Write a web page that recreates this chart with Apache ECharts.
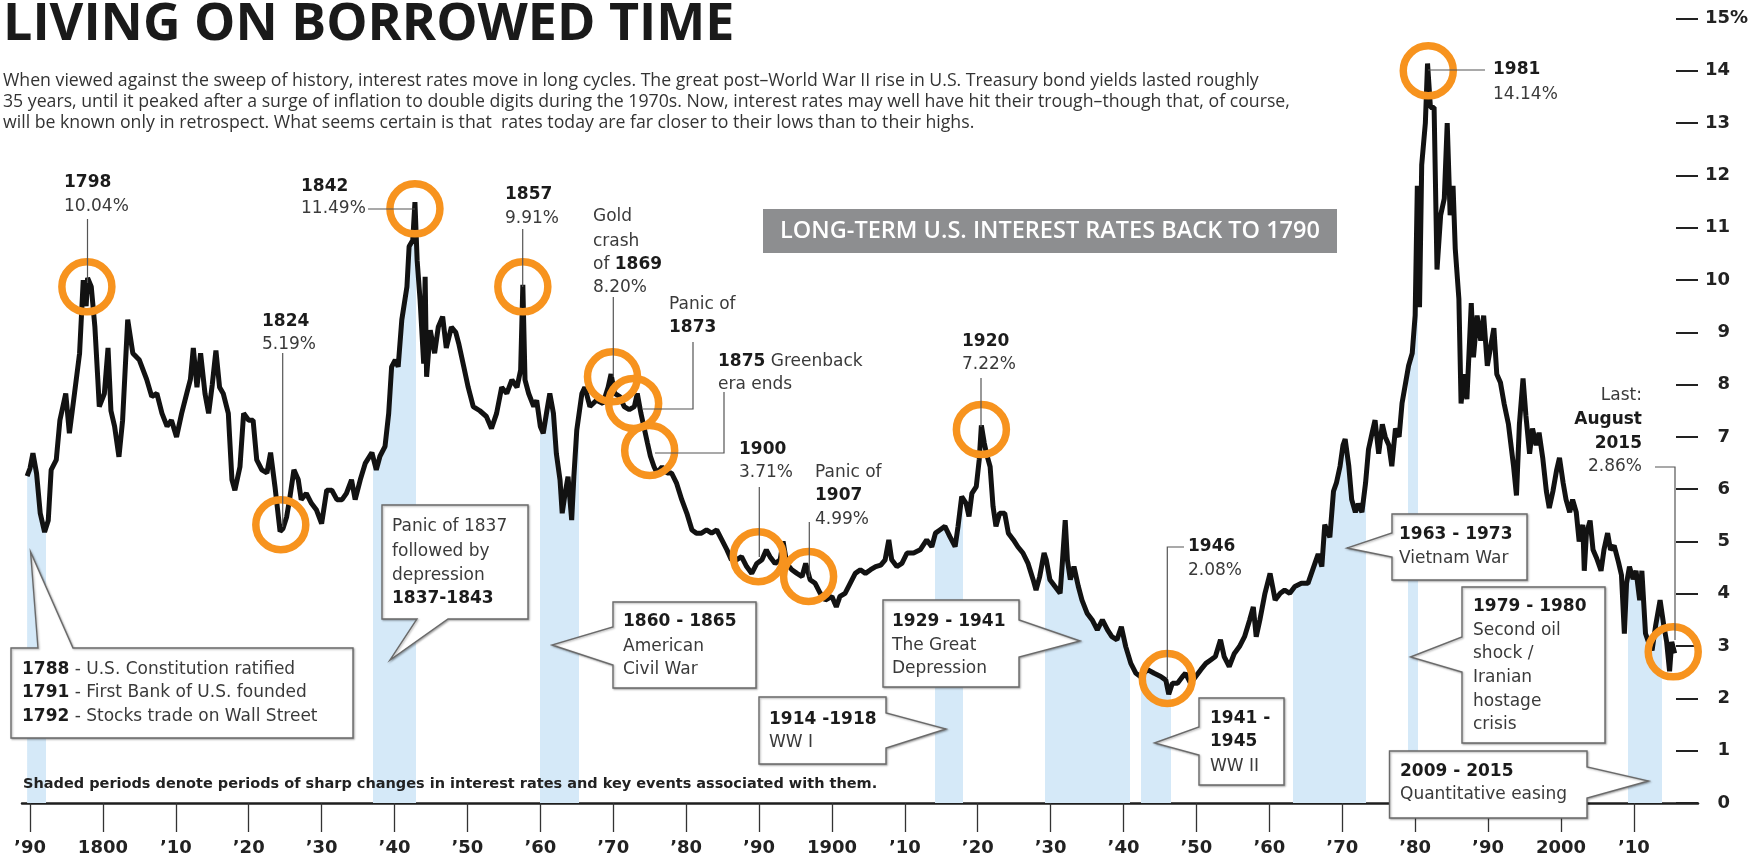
<!DOCTYPE html>
<html>
<head>
<meta charset="utf-8">
<title>Living on borrowed time</title>
<script src="https://cdn.jsdelivr.net/npm/echarts@6/dist/echarts.min.js"></script>
<style>
  html, body { margin: 0; padding: 0; background: #fff; }
  #chart { width: 1758px; height: 861px; }
</style>
</head>
<body>
<div id="chart"></div>
<script>
// decade ticks on the x axis
const decadeTicks = [1790, 1800, 1810, 1820, 1830, 1840, 1850, 1860, 1870, 1880, 1890,
  1900, 1910, 1920, 1930, 1940, 1950, 1960, 1970, 1980, 1990, 2000, 2010];

// long-term yield, [year, percent]
const ratesEarly = [
  [1789.6, 6.25], [1790.0, 6.4], [1790.4, 6.69], [1790.9, 6.3], [1791.4, 5.54], [1792.0, 5.18], [1792.5, 5.4],
  [1792.9, 6.37], [1793.6, 6.56], [1794.1, 7.32], [1794.9, 7.83], [1795.4, 7.07], [1796.1, 7.83], [1796.8, 8.6],
  [1797.3, 10.0], [1797.7, 9.5], [1797.9, 10.04], [1798.4, 9.87], [1798.9, 9.1], [1799.3, 8.1], [1799.5, 7.58],
  [1800.2, 7.83], [1800.7, 8.7], [1801.1, 7.5], [1801.6, 7.2], [1802.2, 6.62], [1802.7, 7.32], [1803.4, 9.24],
  [1804.1, 8.6], [1805.0, 8.47], [1806.0, 8.1], [1806.7, 7.77], [1807.4, 7.83], [1808.1, 7.45], [1808.8, 7.2],
  [1809.4, 7.32], [1810.1, 7.0], [1810.8, 7.45], [1811.5, 7.83], [1812.0, 8.1], [1812.4, 8.7], [1812.9, 7.95],
  [1813.4, 8.6], [1814.0, 7.83], [1814.5, 7.45], [1815.0, 8.0], [1815.5, 8.65], [1816.0, 7.95], [1816.5, 7.83],
  [1817.2, 7.45], [1817.7, 6.18], [1818.1, 5.98], [1818.8, 6.43], [1819.3, 7.45], [1820.0, 7.32], [1820.6, 7.32],
  [1821.1, 6.56], [1821.8, 6.37], [1822.5, 6.31], [1823.0, 6.7], [1823.6, 6.05], [1824.3, 5.19], [1824.7, 5.25],
  [1825.2, 5.47], [1825.6, 5.8], [1826.2, 6.37], [1826.8, 6.18], [1827.2, 5.8], [1827.9, 5.92], [1828.6, 5.73],
  [1829.3, 5.6], [1830.0, 5.34], [1830.7, 5.98], [1831.4, 5.98], [1832.1, 5.8], [1832.8, 5.8], [1833.4, 5.92],
  [1834.1, 6.18], [1834.6, 5.8], [1835.3, 6.18], [1836.0, 6.5], [1836.9, 6.7], [1837.5, 6.37], [1838.0, 6.63],
  [1838.7, 6.82], [1839.2, 7.45], [1839.6, 8.34], [1840.1, 8.47], [1840.5, 8.34], [1841.0, 9.24], [1841.7, 9.87],
  [1842.0, 10.64], [1842.5, 10.76], [1842.8, 11.49], [1843.1, 10.38], [1843.5, 9.63], [1844.0, 8.4], [1844.2, 10.06],
  [1844.4, 8.15], [1844.9, 9.04], [1845.5, 8.6], [1846.0, 9.1], [1846.6, 9.3], [1847.1, 8.7], [1847.8, 9.1]
];
const ratesMid = [
  [1848.4, 9.0], [1848.8, 8.79], [1849.5, 8.34], [1850.1, 7.95], [1850.8, 7.58], [1851.7, 7.5], [1852.6, 7.39],
  [1853.3, 7.16], [1854.0, 7.45], [1854.7, 7.95], [1855.4, 7.83], [1856.1, 8.09], [1856.8, 7.95], [1857.3, 8.28],
  [1857.6, 9.91], [1857.9, 8.09], [1858.4, 7.83], [1859.1, 7.58], [1859.5, 7.7], [1860.0, 7.2], [1860.4, 7.07],
  [1860.9, 7.5], [1861.3, 7.83], [1861.8, 7.45], [1862.2, 6.68], [1862.7, 6.18], [1863.0, 5.54], [1863.4, 5.92],
  [1863.8, 6.24], [1864.3, 5.41], [1864.6, 6.24], [1865.0, 7.13], [1865.7, 7.83], [1866.1, 7.95], [1866.8, 7.58],
  [1867.7, 7.7], [1868.6, 7.64], [1869.3, 7.95], [1869.7, 8.2], [1870.2, 7.83], [1870.9, 7.77], [1871.5, 7.58],
  [1872.2, 7.52], [1872.9, 7.58], [1873.3, 7.83], [1873.8, 7.45], [1874.2, 7.2], [1874.7, 6.88], [1875.1, 6.63],
  [1875.6, 6.43], [1876.0, 6.31], [1876.7, 6.43], [1877.4, 6.31], [1878.0, 6.31], [1878.7, 6.11], [1879.4, 5.8],
  [1880.1, 5.54], [1880.8, 5.22], [1881.4, 5.16], [1882.1, 5.16], [1882.8, 5.22], [1883.5, 5.16], [1884.2, 5.22],
  [1884.9, 5.03], [1885.6, 4.84], [1886.2, 4.65], [1886.9, 4.65], [1887.6, 4.71], [1888.3, 4.52], [1889.0, 4.39],
  [1889.7, 4.58], [1890.4, 4.65], [1891.0, 4.84], [1891.5, 4.71], [1892.2, 4.58], [1892.9, 4.65], [1893.3, 5.0],
  [1893.8, 4.58], [1894.5, 4.46], [1895.2, 4.39], [1895.9, 4.33], [1896.4, 4.58], [1897.0, 4.27], [1897.7, 4.2],
  [1898.4, 4.01], [1899.1, 3.88], [1900.0, 3.95], [1900.6, 3.75], [1901.1, 3.95], [1901.8, 4.01], [1902.5, 4.2],
  [1903.2, 4.39], [1903.9, 4.46], [1904.6, 4.39], [1905.3, 4.46], [1906.0, 4.52], [1906.7, 4.55]
];
const ratesModern = [
  [1907.3, 4.65], [1907.8, 5.03], [1908.2, 4.65], [1908.9, 4.52], [1909.6, 4.58], [1910.3, 4.78], [1911.2, 4.78],
  [1912.1, 4.84], [1913.0, 5.03], [1913.7, 4.9], [1914.2, 5.16], [1914.8, 5.22], [1915.5, 5.29], [1916.2, 5.09],
  [1916.9, 4.9], [1917.3, 5.29], [1917.8, 5.86], [1918.4, 5.73], [1918.8, 5.48], [1919.2, 5.92], [1919.8, 6.05],
  [1920.2, 6.56], [1920.5, 7.22], [1920.9, 6.88], [1921.2, 6.68], [1921.7, 6.43], [1922.1, 5.67], [1922.5, 5.29],
  [1923.0, 5.54], [1923.7, 5.54], [1924.2, 5.16], [1924.9, 5.03], [1925.5, 4.9], [1926.2, 4.78], [1926.9, 4.58],
  [1927.6, 4.27], [1928.0, 4.07], [1928.5, 4.33], [1929.1, 4.78], [1929.4, 4.65], [1929.9, 4.27], [1930.6, 4.14],
  [1931.3, 4.01], [1931.6, 4.58], [1932.0, 5.41], [1932.3, 4.65], [1932.7, 4.27], [1933.2, 4.52], [1933.8, 4.14],
  [1934.3, 3.88], [1935.0, 3.63], [1935.7, 3.5], [1936.4, 3.31], [1937.1, 3.5], [1937.8, 3.31], [1938.4, 3.18],
  [1939.1, 3.12], [1939.7, 3.37], [1940.3, 2.99], [1941.0, 2.67], [1941.7, 2.48], [1942.3, 2.42], [1943.3, 2.55],
  [1944.2, 2.48], [1945.1, 2.42], [1945.8, 2.35], [1946.2, 2.08], [1946.7, 2.29], [1947.4, 2.29], [1948.1, 2.42],
  [1948.5, 2.48], [1949.2, 2.29], [1949.9, 2.42], [1950.6, 2.55], [1951.3, 2.67], [1952.0, 2.74], [1952.6, 2.8],
  [1953.3, 3.12], [1953.8, 2.8], [1954.5, 2.61], [1955.2, 2.86], [1955.9, 2.99], [1956.6, 3.18], [1957.3, 3.5],
  [1957.8, 3.75], [1958.2, 3.18], [1958.7, 3.5], [1959.4, 4.01], [1960.1, 4.39], [1960.8, 3.88], [1961.5, 4.01],
  [1962.1, 4.07], [1962.8, 4.01], [1963.5, 4.14], [1964.4, 4.2], [1965.3, 4.2]
];
const ratesRecent = [
  [1966.3, 4.6], [1966.7, 4.76], [1967.2, 4.52], [1967.6, 5.32], [1968.3, 5.08], [1968.8, 5.96], [1969.2, 6.12],
  [1969.7, 6.44], [1970.1, 6.84], [1970.4, 6.96], [1970.9, 6.44], [1971.3, 5.8], [1971.8, 5.56], [1972.2, 5.72],
  [1972.7, 5.56], [1973.2, 6.12], [1973.6, 6.76], [1974.1, 7.08], [1974.5, 7.32], [1975.0, 6.68], [1975.5, 7.24],
  [1975.9, 7.0], [1976.4, 6.84], [1976.8, 6.44], [1977.3, 7.16], [1977.8, 7.0], [1978.2, 7.64], [1978.7, 8.04],
  [1979.1, 8.36], [1979.6, 8.6], [1980.0, 9.32], [1980.3, 11.8], [1980.6, 9.48], [1980.9, 12.2], [1981.4, 13.0],
  [1981.7, 14.14], [1982.1, 13.3], [1982.6, 13.3], [1983.0, 10.2], [1983.5, 11.24], [1984.0, 11.56], [1984.4, 13.0],
  [1984.8, 11.24], [1985.2, 11.8], [1985.5, 10.6], [1986.0, 9.64], [1986.3, 7.64], [1986.7, 8.2], [1987.1, 7.72],
  [1987.7, 9.56], [1988.0, 8.52], [1988.5, 9.32], [1989.0, 8.84], [1989.4, 9.32], [1989.9, 8.36], [1990.3, 8.68],
  [1990.8, 9.08], [1991.2, 8.2], [1991.7, 8.04], [1992.2, 7.64], [1992.8, 7.24], [1993.5, 6.44], [1993.9, 5.88],
  [1994.3, 7.24], [1994.8, 8.12], [1995.2, 7.4], [1995.7, 6.68], [1996.1, 7.16], [1996.6, 6.84], [1997.0, 7.08],
  [1997.5, 6.6], [1998.0, 5.96], [1998.4, 5.64], [1998.9, 5.96], [1999.4, 6.36], [1999.8, 6.6], [2000.3, 6.12],
  [2000.7, 5.8], [2001.2, 5.56], [2001.6, 5.8], [2002.1, 5.56], [2002.5, 5.0], [2003.0, 5.32], [2003.2, 4.44],
  [2003.5, 5.16], [2004.0, 5.4], [2004.4, 4.84], [2004.9, 4.68], [2005.5, 4.44], [2005.9, 4.84], [2006.4, 5.16],
  [2006.8, 4.84], [2007.3, 4.92], [2007.9, 4.6], [2008.3, 4.36], [2008.7, 3.24], [2009.0, 4.2], [2009.4, 4.52],
  [2009.9, 4.28], [2010.3, 4.44], [2010.8, 3.88], [2011.1, 4.44], [2011.6, 3.24], [2012.0, 3.08], [2012.5, 2.92],
  [2013.0, 3.4], [2013.6, 3.88], [2014.1, 3.4], [2014.5, 3.08], [2014.9, 2.52], [2015.2, 3.08], [2015.6, 2.86]
];

// shaded periods (from year, to year)
const shadedPeriods = [
  [1789.2, 1792.2], [1837.0, 1843.0], [1860.0, 1865.3], [1914.1, 1918.0], [1929.2, 1940.9],
  [1942.4, 1946.5], [1963.3, 1973.3], [1979.0, 1980.4], [2009.2, 2013.9]
];

// orange rings
const circledPoints = [
  [1797.8, 9.87], [1824.4, 5.32], [1842.8, 11.36], [1857.6, 9.87], [1869.9, 8.15], [1872.8, 7.64],
  [1875.0, 6.74], [1889.9, 4.71], [1896.8, 4.33], [1920.5, 7.14], [1946.0, 2.38], [1981.8, 14.0], [2015.4, 2.89]
];

const rates = ratesEarly.concat(ratesMid, ratesModern, ratesRecent);

const SANS = '"DejaVu Sans", sans-serif';
const RICH = {
  b: { fontFamily: SANS, fontWeight: 'bold', fontSize: 17, fill: '#1b1b1b' }
};

function label(x, y, text, extra) {
  return {
    type: 'text', x: x, y: y, z: 100, silent: true,
    style: Object.assign({
      text: text, fill: '#3a3a3a', fontFamily: SANS, fontSize: 17,
      align: 'left', verticalAlign: 'middle', rich: RICH
    }, extra || {})
  };
}

function leader(points) {
  return {
    type: 'polyline', z: 90, silent: true,
    shape: { points: points },
    style: { stroke: '#555', lineWidth: 1.2, fill: null }
  };
}

function callout(points) {
  return {
    type: 'polygon', z: 80, silent: true,
    shape: { points: points },
    style: {
      fill: '#fff', stroke: '#6a6a6a', lineWidth: 1.4,
      shadowBlur: 2, shadowOffsetX: 1, shadowOffsetY: 1, shadowColor: 'rgba(0,0,0,0.3)'
    }
  };
}

function textLines(x, ys, texts, extra) {
  return texts.map((t, i) => label(x, ys[i], t, extra));
}

const subtitle = [
  'When viewed against the sweep of history, interest rates move in long cycles. The great post\u2013World War II rise in U.S. Treasury bond yields lasted roughly',
  '35 years, until it peaked after a surge of inflation to double digits during the 1970s. Now, interest rates may well have hit their trough\u2013though that, of course,',
  'will be known only in retrospect. What seems certain is that  rates today are far closer to their lows than to their highs.'
];

const graphics = [
  {
    type: 'text', x: 3, y: 25, z: 100,
    style: { text: 'LIVING ON BORROWED TIME', fill: '#1a1a1a', fontFamily: '"Open Sans", sans-serif',
      fontWeight: 'bold', fontSize: 52, verticalAlign: 'middle' }
  },
  ...subtitle.map((t, i) => ({
    type: 'text', x: 3, y: 81 + i * 21, z: 100,
    style: { text: t, fill: '#333', fontFamily: '"Open Sans", sans-serif', fontSize: 17.7, verticalAlign: 'middle' }
  })),
  {
    type: 'rect', z: 70, shape: { x: 763, y: 209, width: 574, height: 44 },
    style: { fill: '#8d8e90' }
  },
  {
    type: 'text', x: 1050, y: 231, z: 100,
    style: { text: 'LONG-TERM U.S. INTEREST RATES BACK TO 1790', fill: '#fff',
      fontFamily: '"Open Sans", sans-serif', fontWeight: 600, fontSize: 23.5, align: 'center', verticalAlign: 'middle' }
  },
  label(23, 784, 'Shaded periods denote periods of sharp changes in interest rates and key events associated with them.',
    { fontWeight: 'bold', fontSize: 14.5, fill: '#222' }),

  // peak / trough labels
  ...textLines(64, [183, 207], ['{b|1798}', '10.04%']),
  ...textLines(262, [322, 345], ['{b|1824}', '5.19%']),
  ...textLines(301, [187, 209], ['{b|1842}', '11.49%']),
  ...textLines(505, [195, 219], ['{b|1857}', '9.91%']),
  ...textLines(593, [217, 242, 265, 288], ['Gold', 'crash', 'of {b|1869}', '8.20%']),
  ...textLines(669, [305, 328], ['Panic of', '{b|1873}']),
  ...textLines(718, [362, 385], ['{b|1875} Greenback', 'era ends']),
  ...textLines(739, [450, 473], ['{b|1900}', '3.71%']),
  ...textLines(815, [473, 496, 520], ['Panic of', '{b|1907}', '4.99%']),
  ...textLines(962, [342, 365], ['{b|1920}', '7.22%']),
  ...textLines(1188, [547, 571], ['{b|1946}', '2.08%']),
  ...textLines(1493, [70, 95], ['{b|1981}', '14.14%']),
  ...textLines(1642, [396, 420, 444, 467], ['Last:', '{b|August}', '{b|2015}', '2.86%'], { align: 'right' }),

  leader([[87.5, 219], [87.5, 283]]),
  leader([[282.7, 353], [282.7, 527]]),
  leader([[368, 209], [415, 209]]),
  leader([[522.7, 229], [522.7, 287]]),
  leader([[613.3, 297], [613.3, 377]]),
  leader([[643, 409], [693, 409], [693, 342]]),
  leader([[655, 453], [724, 453], [724, 392]]),
  leader([[759.3, 487], [759.3, 557]]),
  leader([[809.3, 522], [809.3, 577]]),
  leader([[981, 378], [981, 427]]),
  leader([[1184, 547], [1167.3, 547], [1167.3, 678]]),
  leader([[1428, 70], [1485, 70]]),
  leader([[1655, 467], [1675, 467], [1675, 640]]),

  // callout boxes
  callout([[11, 648], [38, 648], [30.6, 552], [73, 648], [353, 648], [353, 738], [11, 738]]),
  ...textLines(22, [670, 693, 717], ['{b|1788} - U.S. Constitution ratified', '{b|1791} - First Bank of U.S. founded', '{b|1792} - Stocks trade on Wall Street']),
  callout([[382, 505], [528, 505], [528, 619], [448, 619], [390, 660], [417, 619], [382, 619]]),
  ...textLines(392, [527, 552, 576, 599], ['Panic of 1837', 'followed by', 'depression', '{b|1837-1843}']),
  callout([[613, 602], [756, 602], [756, 688], [613, 688], [613, 665], [552, 645], [613, 627]]),
  ...textLines(623, [622, 647, 670], ['{b|1860 - 1865}', 'American', 'Civil War']),
  callout([[759, 697], [886, 697], [886, 713], [946, 729], [886, 748], [886, 764], [759, 764]]),
  ...textLines(769, [720, 743], ['{b|1914 -1918}', 'WW I']),
  callout([[883, 600], [1019, 600], [1019, 620], [1080, 641], [1019, 657], [1019, 687], [883, 687]]),
  ...textLines(892, [622, 646, 669], ['{b|1929 - 1941}', 'The Great', 'Depression']),
  callout([[1199, 698], [1284, 698], [1284, 785], [1199, 785], [1199, 755], [1154.5, 743], [1199, 727]]),
  ...textLines(1210, [719, 742, 767], ['{b|1941 -}', '{b|1945}', 'WW II']),
  callout([[1392, 514], [1527, 514], [1527, 580], [1392, 580], [1392, 557], [1347, 548], [1392, 533]]),
  ...textLines(1399, [535, 559], ['{b|1963 - 1973}', 'Vietnam War']),
  callout([[1462, 587], [1605, 587], [1605, 743], [1462, 743], [1462, 672], [1410.5, 657], [1462, 637]]),
  ...textLines(1473, [607, 631, 654, 678, 702, 725], ['{b|1979 - 1980}', 'Second oil', 'shock /', 'Iranian', 'hostage', 'crisis']),
  callout([[1389.5, 751], [1587, 751], [1587, 767], [1648.5, 781], [1587, 798], [1587, 818], [1389.5, 818]]),
  ...textLines(1400, [772, 795], ['{b|2009 - 2015}', 'Quantitative easing'])
];

const chart = echarts.init(document.getElementById('chart'));

chart.setOption({
  animation: false,
  backgroundColor: '#fff',
  grid: { left: 22, right: 60, top: 18.5, bottom: 58, containLabel: false },
  xAxis: {
    type: 'value', min: 1788.9, max: 2018.8,
    axisLine: { lineStyle: { color: '#1e1e1e', width: 2.5 } },
    axisTick: { show: true, customValues: decadeTicks, length: 29, lineStyle: { color: '#333', width: 1.3 } },
    axisLabel: {
      customValues: decadeTicks, margin: 36,
      fontFamily: SANS, fontWeight: 'bold', fontSize: 18, color: '#222',
      formatter: v => (v % 100 === 0 ? String(v) : '\u2019' + String(v).slice(2))
    },
    splitLine: { show: false }
  },
  yAxis: {
    type: 'value', position: 'right', min: 0, max: 15, interval: 1,
    axisLine: { show: false },
    axisTick: { show: true, inside: true, length: 22, lineStyle: { color: '#222', width: 2 } },
    splitLine: { show: false },
    axisLabel: {
      margin: 7,
      formatter: v => '{n|' + v + '}' + (v === 15 ? '{p|%}' : ''),
      rich: {
        n: { width: 25, align: 'right', fontFamily: SANS, fontWeight: 'bold', fontSize: 18, color: '#222' },
        p: { fontFamily: SANS, fontWeight: 'bold', fontSize: 18, color: '#222' }
      }
    }
  },
  visualMap: {
    show: false, type: 'piecewise', seriesIndex: 0, dimension: 0,
    pieces: shadedPeriods.map(p => ({ gte: p[0], lte: p[1], color: '#d5e9f8' })),
    outOfRange: { color: 'rgba(255,255,255,0)' }
  },
  series: [
    {
      name: 'shaded', type: 'line', data: rates, showSymbol: false, silent: true, z: 1,
      lineStyle: { width: 0 }, areaStyle: { opacity: 1 }
    },
    {
      name: 'yield', type: 'line', data: rates, showSymbol: false, silent: true, z: 3,
      lineStyle: { width: 5, color: '#121212' }, itemStyle: { color: '#121212' }
    },
    {
      name: 'rings', type: 'scatter', data: circledPoints, symbolSize: 50, silent: true, z: 4,
      itemStyle: { color: 'rgba(0,0,0,0)', borderColor: '#f7931e', borderWidth: 7.5, opacity: 1 }
    }
  ],
  graphic: { elements: graphics }
});
</script>
</body>
</html>
